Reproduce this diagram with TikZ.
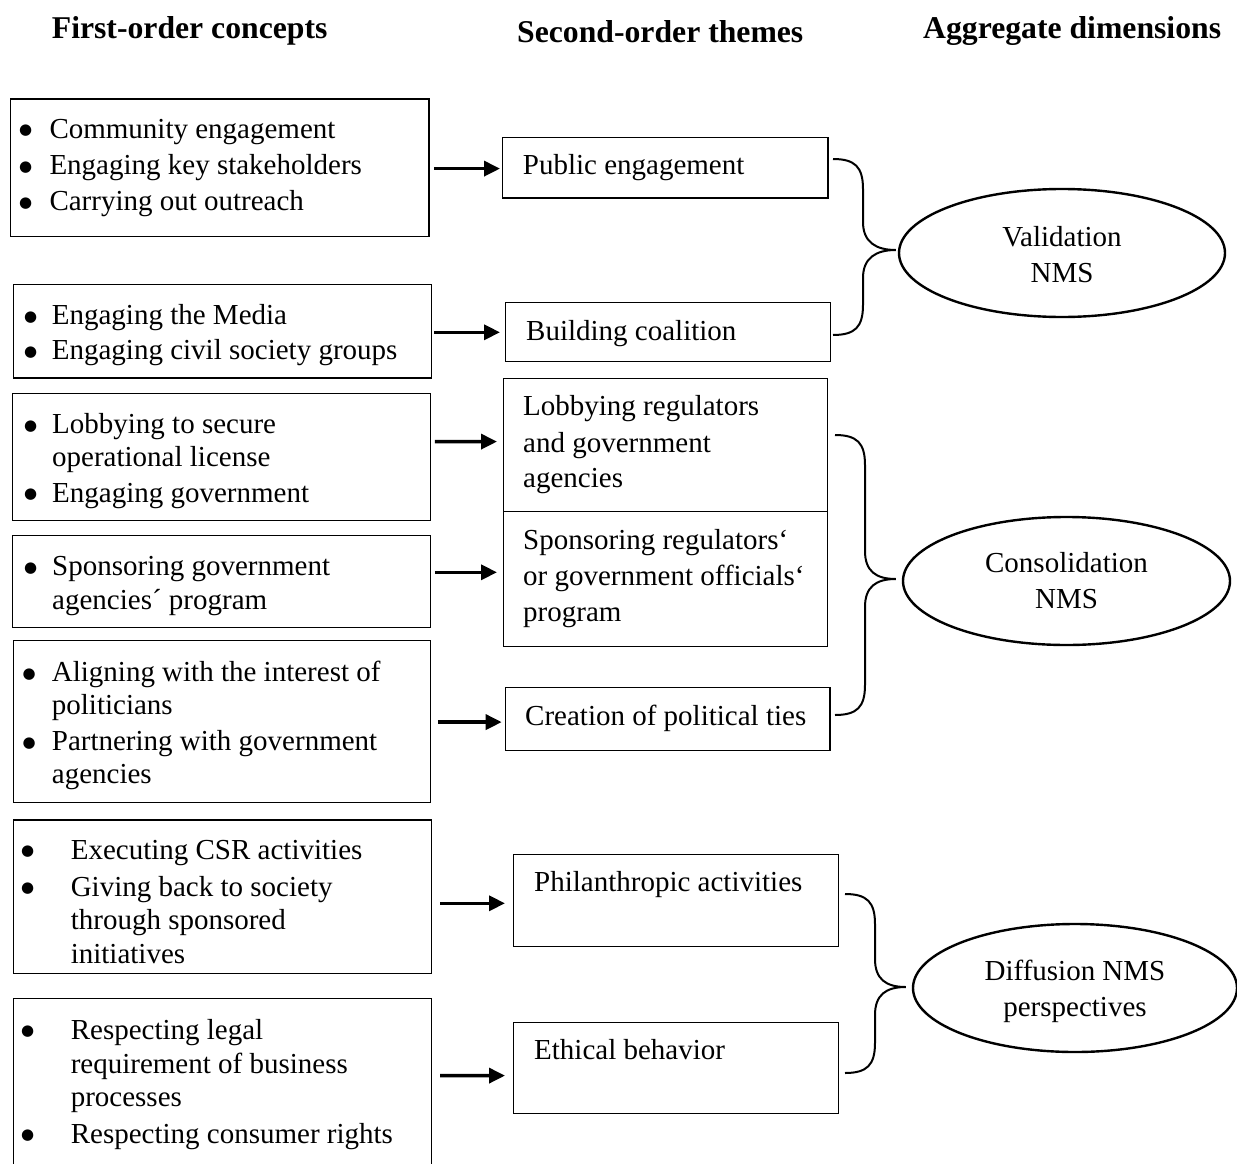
\documentclass[tikz,border=0pt]{standalone}
\usepackage{fontspec}
\setmainfont{Liberation Serif}
\newfontfamily\dejavu{DejaVu Sans}
\usetikzlibrary{arrows.meta,calc,shapes.geometric}
\newcommand\mybul[1]{\strut\makebox[#1][l]{\hspace*{-1pt}\raisebox{3.5pt}{\dejavu\fontsize{15}{15}\selectfont ●}}}
\newcommand\myind[1]{\strut\hspace*{#1}}
\newcommand\mybrace[3]{%
  \draw[brc] let \p1=(#1), \p2=(#2), \p3=(#3) in
    (\p1) .. controls (\x1+22pt,\y1) and (\x1+30pt,\y1-8pt) .. (\x1+30pt,\y1-30pt)
    -- (\x1+30pt,\y3+28pt) .. controls (\x1+30pt,\y3+8pt) and (\x3-20pt,\y3) .. (\p3)
    .. controls (\x3-20pt,\y3) and (\x1+30pt,\y3-8pt) .. (\x1+30pt,\y3-28pt)
    -- (\x1+30pt,\y2+30pt) .. controls (\x1+30pt,\y2+8pt) and (\x1+22pt,\y2) .. (\p2);}
\begin{document}
\begin{tikzpicture}[x=1pt,y=-1pt,
  boxl/.style={draw, line width=1.2pt, rectangle, inner sep=0pt, anchor=north west},
  txt/.style={inner sep=0pt, anchor=north west, align=left, font=\fontsize{29}{33}\selectfont},
  stxt/.style={inner sep=0pt, anchor=base west, font=\fontsize{29}{33}\selectfont},
  hdr/.style={inner sep=0pt, anchor=base west, font=\fontsize{31.7}{36}\selectfont\bfseries},
  arr/.style={line width=3.5pt, -{Triangle[length=16pt,width=15pt]}},
  ell/.style={draw, ellipse, line width=2.4pt, inner sep=0pt, align=center, font=\fontsize{29}{36}\selectfont},
  brc/.style={line width=2pt}
]
\useasboundingbox (0,0) rectangle (1237,1164);
\clip (0,0) rectangle (1237,1164);

% headers
\node[hdr] (h1) at (51.7,38.7) {First-order concepts};
\node[hdr] (h2) at (517,42.7) {Second-order themes};
\node[hdr] (h3) at (923,38.7) {Aggregate dimensions};

% left boxes
\node[boxl, minimum width=418.3pt, minimum height=137.4pt] (l1) at (10,98.3) {};
\node[boxl, minimum width=418pt, minimum height=93.3pt] (l2) at (12.7,284) {};
\node[boxl, minimum width=418pt, minimum height=127.3pt] (l3) at (12,392.7) {};
\node[boxl, minimum width=418pt, minimum height=91.7pt] (l4) at (12,535) {};
\node[boxl, minimum width=417.3pt, minimum height=161.7pt] (l5) at (12.7,640) {};
\node[boxl, minimum width=417.9pt, minimum height=153.7pt] (l6) at (12.6,819.3) {};
\node[boxl, minimum width=417.9pt, minimum height=190pt] (l7) at (12.6,998) {};

\node[txt] (t1) at (20,115) {\mybul{29.3pt}Community engagement\\[3.3pt]\mybul{29.3pt}Engaging key stakeholders\\[3pt]\mybul{29.3pt}Carrying out outreach};
\node[txt] (t2) at (25,301.2) {\mybul{26.7pt}Engaging the Media\\[2pt]\mybul{26.7pt}Engaging civil society groups};
\node[txt] (t3) at (25,410.2) {\mybul{27pt}Lobbying to secure\\\myind{27pt}operational license\\[2.7pt]\mybul{27pt}Engaging government};
\node[txt] (t4) at (25,552.2) {\mybul{27pt}Sponsoring government\\[1pt]\myind{27pt}agencies´ program};
\node[txt] (t5) at (23.3,658.4) {\mybul{28.4pt}Aligning with the interest of\\\myind{28.4pt}politicians\\[3pt]\mybul{28.4pt}Partnering with government\\\myind{28.4pt}agencies};
\node[txt] (t6) at (22,835.9) {\mybul{48.6pt}Executing CSR activities\\[4pt]\mybul{48.6pt}Giving back to society\\\myind{48.6pt}through sponsored\\[1pt]\myind{48.6pt}initiatives};
\node[txt] (t7) at (22,1015.9) {\mybul{48.6pt}Respecting legal\\[1pt]\myind{48.6pt}requirement of business\\\myind{48.6pt}processes\\[4pt]\mybul{48.6pt}Respecting consumer rights};

% middle boxes
\node[boxl, minimum width=325.3pt, minimum height=60.6pt] (m1) at (502,136.7) {};
\node[boxl, minimum width=325pt, minimum height=59pt] (m2) at (505,301.7) {};
\node[boxl, minimum width=323.5pt, minimum height=133pt] (m3) at (503,378) {};
\node[boxl, minimum width=323.5pt, minimum height=134.7pt] (m4) at (503,511) {};
\node[boxl, minimum width=324.3pt, minimum height=63.3pt] (m5) at (505,686.7) {};
\node[boxl, minimum width=325.4pt, minimum height=91.7pt] (m6) at (512.6,854) {};
\node[boxl, minimum width=325.4pt, minimum height=91.3pt] (m7) at (512.6,1021.7) {};

\node[stxt] (mt1) at (522.7,174) {Public engagement};
\node[stxt] (mt2) at (526,340) {Building coalition};
\node[txt] (mt3) at (523,391.9) {\strut Lobbying regulators\\[4pt]\strut and government\\[2.5pt]\strut agencies};
\node[txt] (mt4) at (523,525.9) {\strut Sponsoring regulators‘\\[3.5pt]\strut or government officials‘\\[3pt]\strut program};
\node[stxt] (mt5) at (525,725) {Creation of political ties};
\node[stxt] (mt6) at (534,891) {Philanthropic activities};
\node[stxt] (mt7) at (534,1059) {Ethical behavior};

% ellipses
\node[ell, minimum width=326pt, minimum height=128pt] (e1) at (1062,253) {\rule{0pt}{23pt}Validation\\NMS};
\node[ell, minimum width=327pt, minimum height=128pt] (e2) at (1066.5,581) {Consolidation\\NMS};
\node[ell, minimum width=324pt, minimum height=128pt] (e3) at (1075,988) {\rule{0pt}{28pt}Diffusion NMS\\perspectives};

% arrows
\draw[arr] ($(l1.east)+(4.7,1)$) -- ($(m1.west)+(-2,1)$);
\draw[arr] ($(l2.east)+(2.3,1.05)$) -- ($(m2.west)+(-5,0.5)$);
\draw[arr] ($(l3.east)+(3.6,-15.35)$) -- ($(m3.west)+(-6,-3.5)$);
\draw[arr] ($(l4.east)+(3.6,-9.15)$) -- ($(m4.west)+(-6,-6.65)$);
\draw[arr] ($(l5.east)+(6.7,0.65)$) -- ($(m5.west)+(-3.3,3.15)$);
\draw[arr] ($(l6.east)+(8.5,6.55)$) -- ($(m6.west)+(-7.6,2.85)$);
\draw[arr] ($(l7.east)+(8.5,-18)$) -- ($(m7.west)+(-7.6,7.65)$);

% braces
\coordinate (b1t) at (833,159);
\coordinate (b1b) at (833,335);
\coordinate (b1p) at ($(e1.west)+(-2,-3)$);
\coordinate (b2t) at (835,435);
\coordinate (b2b) at (835,715);
\coordinate (b2p) at ($(e2.west)+(-6,-2)$);
\coordinate (b3t) at (845,894);
\coordinate (b3b) at (845,1073);
\coordinate (b3p) at ($(e3.west)+(-6,-1)$);
\mybrace{b1t}{b1b}{b1p}
\mybrace{b2t}{b2b}{b2p}
\mybrace{b3t}{b3b}{b3p}
\end{tikzpicture}
\end{document}
